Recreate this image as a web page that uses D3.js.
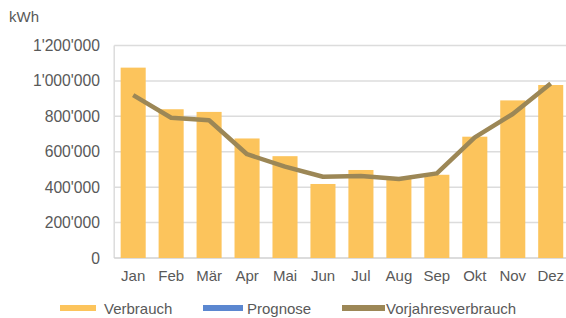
<!DOCTYPE html>
<html><head><meta charset="utf-8">
<script src="https://cdn.jsdelivr.net/npm/d3@7"></script>
<style>body{margin:0;background:#fff}svg{display:block}text{font-family:"Liberation Sans",Arial,sans-serif;fill:#595959}</style>
</head><body>
<script>
const months = ["Jan","Feb","Mär","Apr","Mai","Jun","Jul","Aug","Sep","Okt","Nov","Dez"];
const verbrauch = [1075000,840000,825000,675000,575000,418000,497000,450000,470000,685000,890000,977000];
const vorjahr = [920000,792000,778000,586000,516000,459000,463000,446000,478000,681000,813000,986000];
const yTicks = [0,200000,400000,600000,800000,1000000,1200000];
const legendItems = ["Verbrauch","Prognose","Vorjahresverbrauch"];
const colors = {Verbrauch:"#fcc45c", Prognose:"#5b87d0", Vorjahresverbrauch:"#9c8756"};

const W=566,H=318;
const svg=d3.select("body").append("svg").attr("width",W).attr("height",H);
const x=d3.scaleBand().domain(months).range([114.2,569.7]).paddingInner(0.34).paddingOuter(0.17);
const y=d3.scaleLinear().domain([0,1200000]).range([258,45.5]);
const fmt=d=>d===0?"0":d3.format(",")(d).replace(/,/g,"'");

// grid
svg.append("g").selectAll("line").data(yTicks.slice(1)).join("line")
 .attr("x1",114.2).attr("x2",569.7).attr("y1",d=>y(d)).attr("y2",d=>y(d))
 .attr("stroke","#dcdcdc").attr("stroke-width",1.5);
svg.append("line").attr("x1",114.2).attr("x2",114.2).attr("y1",y(1200000)).attr("y2",y(0)).attr("stroke","#dcdcdc").attr("stroke-width",1.5);
svg.append("line").attr("x1",114.2).attr("x2",569.7).attr("y1",y(0)).attr("y2",y(0)).attr("stroke","#d0d0d0").attr("stroke-width",1.5);

// y axis
const ya=svg.append("g").attr("transform","translate(100,0)").call(d3.axisLeft(y).tickValues(yTicks).tickFormat(fmt).tickSize(0).tickPadding(0));
ya.select(".domain").remove();
ya.selectAll("text").attr("font-size",15.7).attr("fill","#595959").attr("font-family","Liberation Sans, Arial, sans-serif");

// x axis
const xa=svg.append("g").attr("transform","translate(0,270)").call(d3.axisBottom(x).tickSize(0).tickPadding(0));
xa.select(".domain").remove();
xa.selectAll("text").attr("font-size",15).attr("fill","#595959").attr("font-family","Liberation Sans, Arial, sans-serif");

svg.append("text").attr("x",9).attr("y",22).attr("font-size",15).text("kWh");

// bars
svg.append("g").selectAll("rect").data(verbrauch).join("rect")
 .attr("x",(d,i)=>x(months[i])).attr("width",x.bandwidth())
 .attr("y",d=>y(d)).attr("height",d=>y(0)-y(d)).attr("fill",colors.Verbrauch);

// line
svg.append("path").datum(vorjahr)
 .attr("d",d3.line().x((d,i)=>x(months[i])+x.bandwidth()/2).y(d=>y(d)))
 .attr("fill","none").attr("stroke",colors.Vorjahresverbrauch).attr("stroke-width",4.5).attr("stroke-linejoin","round");

// legend
const legPos=[{sx:60,sw:36,tx:104},{sx:203,sw:40,tx:247},{sx:342,sw:43,tx:386}];
const lg=svg.append("g").selectAll("g").data(legendItems).join("g");
lg.append("rect").attr("x",(d,i)=>legPos[i].sx).attr("y",305).attr("width",(d,i)=>legPos[i].sw).attr("height",6).attr("fill",d=>colors[d]);
lg.append("text").attr("x",(d,i)=>legPos[i].tx).attr("y",314).attr("font-size",15).text(d=>d);
</script>
</body></html>
